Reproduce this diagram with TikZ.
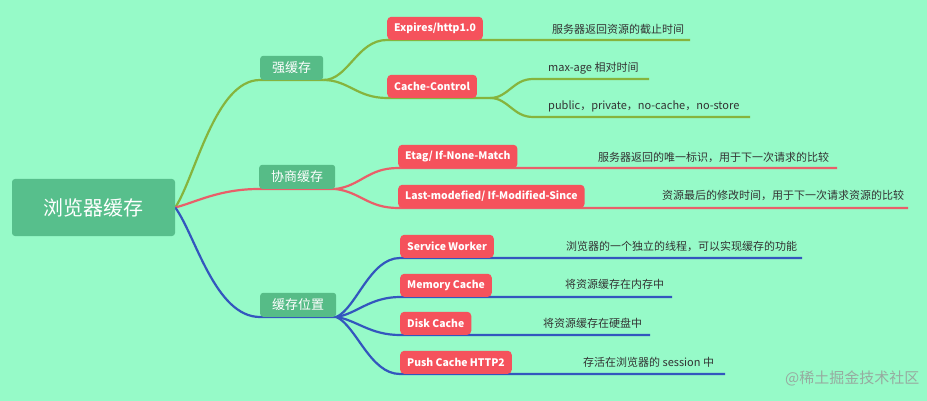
\documentclass[tikz,border=0pt]{standalone}
\usepackage{fontspec}
\setmainfont{Noto Sans CJK SC}
\usepackage{tikz}
\definecolor{mint}{HTML}{96FAC8}
\definecolor{rootgreen}{HTML}{57BF8C}
\definecolor{topicgreen}{HTML}{56BC87}
\definecolor{boxred}{HTML}{F5525C}
\definecolor{notegray}{HTML}{333333}
\definecolor{linegreen}{HTML}{86B43D}
\definecolor{linered}{HTML}{E95F69}
\definecolor{lineblue}{HTML}{3356BE}
\definecolor{markgray}{HTML}{96ABA0}
\pgfdeclarelayer{bg}
\pgfdeclarelayer{links}
\pgfsetlayers{bg,links,main}

\begin{document}
\begin{tikzpicture}[x=1pt,y=-1pt,
rootbox/.style={fill=rootgreen,rounded corners=3pt,text=white,font=\fontsize{20}{24}\selectfont,minimum width=163pt,minimum height=57pt,inner sep=0pt},
topic/.style={fill=topicgreen,rounded corners=3pt,text=white,font=\fontsize{13}{15}\selectfont,minimum height=24pt,inner xsep=12pt,inner ysep=0pt,anchor=south west},
sub/.style={fill=boxred,rounded corners=4pt,text=white,font=\bfseries\fontsize{10.4}{12}\selectfont,minimum height=23pt,inner xsep=7pt,inner ysep=0pt,anchor=south west},
note/.style={text=notegray,font=\fontsize{11}{13}\selectfont,inner sep=0pt,anchor=west},
gline/.style={draw=linegreen,line width=2.2pt},
rline/.style={draw=linered,line width=2.2pt},
bline/.style={draw=lineblue,line width=2.2pt}]
\useasboundingbox (0,0) rectangle (927,401);
\begin{pgfonlayer}{bg}
\fill[mint] (0,0) rectangle (927,401);
\end{pgfonlayer}

% root and topics
\node[rootbox] (root) at (93.5,207.5) {浏览器缓存};
\node[topic] (strong) at (260,80) {强缓存};
\node[topic] (nego) at (259,189) {协商缓存};
\node[topic] (where) at (260,317) {缓存位置};

% red boxes
\node[sub] (expires) at (387,40) {Expires/http1.0};
\node[sub] (cachectl) at (387,98) {Cache-Control};
\node[sub] (etag) at (398,168) {Etag/ If-None-Match};
\node[sub] (lastmod) at (398,208) {Last-modefied/ If-Modified-Since};
\node[sub] (worker) at (400,258) {Service Worker};
\node[sub] (memory) at (400,297) {Memory Cache};
\node[sub] (disk) at (400,335) {Disk Cache};
\node[sub] (push) at (400,374) {Push Cache HTTP2};

% notes
\node[note] (expiresN) at (552,29) {服务器返回资源的截止时间};
\node[note] (maxageN) at (548,68) {max-age 相对时间};
\node[note] (publicN) at (548,106) {public，private，no-cache，no-store};
\node[note] (etagN) at (598,157) {服务器返回的唯一标识，用于下一次请求的比较};
\node[note] (lastmodN) at (662,195) {资源最后的修改时间，用于下一次请求资源的比较};
\node[note] (workerN) at (566,246) {浏览器的一个独立的线程，可以实现缓存的功能};
\node[note] (memoryN) at (565,284) {将资源缓存在内存中};
\node[note] (diskN) at (543,323) {将资源缓存在硬盘中};
\node[note] (pushN) at (583,362) {存活在浏览器的 session 中};
\node[note,text=markgray,font=\fontsize{15}{17}\selectfont] (mark) at (785,378) {@稀土掘金技术社区};

% line ends
\coordinate (expiresE) at (690,40);
\coordinate (maxageS) at (533,79);
\coordinate (maxageE) at (649,79);
\coordinate (publicS) at (533,117);
\coordinate (publicE) at (750,117);
\coordinate (etagE) at (837,168);
\coordinate (lastmodE) at (908,208);
\coordinate (workerE) at (802,258);
\coordinate (memoryE) at (672,297);
\coordinate (diskE) at (650,335);
\coordinate (pushE) at (725,374);

\begin{pgfonlayer}{links}
\draw[gline] (root.east) .. controls +(20,-30) and +(-45,0) .. (strong.south west) -- (strong.south east);
\draw[rline] (root.east) .. controls +(20,-5) and +(-40,0) .. (nego.south west) -- (nego.south east);
\draw[bline] (root.east) .. controls +(20,27) and +(-45,0) .. (where.south west) -- (where.south east);

\draw[gline] (strong.south east) .. controls +(25,0) and +(-30,0) .. (expires.south west) -- (expiresE);
\draw[gline] (strong.south east) .. controls +(25,0) and +(-30,0) .. (cachectl.south west) -- (cachectl.south east) -- ++(13,0) coordinate (split);
\draw[gline] (split) .. controls +(18,0) and +(-20,0) .. (maxageS) -- (maxageE);
\draw[gline] (split) .. controls +(18,0) and +(-20,0) .. (publicS) -- (publicE);

\draw[rline] (nego.south east) .. controls +(25,-3) and +(-30,0) .. (etag.south west) -- (etagE);
\draw[rline] (nego.south east) .. controls +(25,3) and +(-30,0) .. (lastmod.south west) -- (lastmodE);

\draw[bline] (where.south east) .. controls +(20,-9) and +(-30,0) .. (worker.south west) -- (workerE);
\draw[bline] (where.south east) .. controls +(20,-3) and +(-30,0) .. (memory.south west) -- (memoryE);
\draw[bline] (where.south east) .. controls +(20,3) and +(-30,0) .. (disk.south west) -- (diskE);
\draw[bline] (where.south east) .. controls +(20,9) and +(-30,0) .. (push.south west) -- (pushE);
\end{pgfonlayer}
\end{tikzpicture}
\end{document}
